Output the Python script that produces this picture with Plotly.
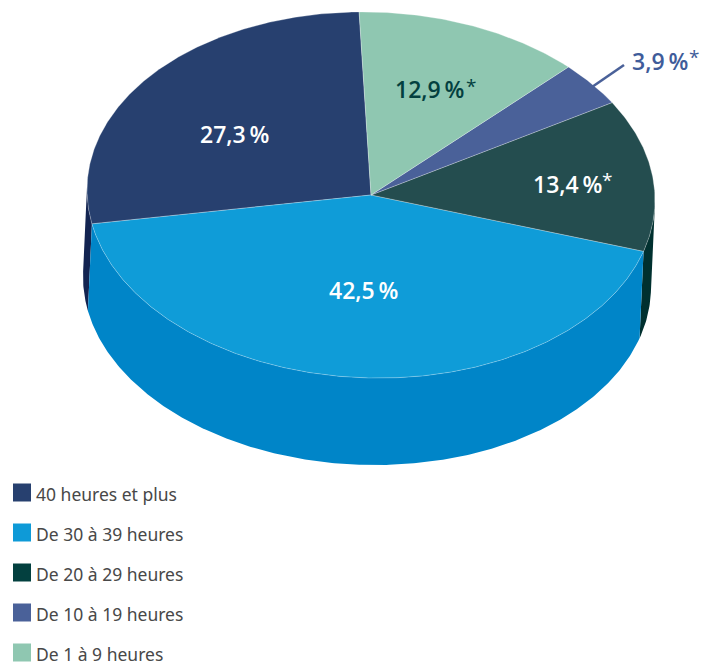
import numpy as np
import plotly.graph_objects as go

categories = ["40 heures et plus", "De 30 à 39 heures", "De 20 à 29 heures", "De 10 à 19 heures", "De 1 à 9 heures"]
values = [27.3, 42.5, 13.4, 3.9, 12.9]
value_text = ["27,3", "42,5", "13,4", "3,9", "12,9"]
top_colors = ["#27406F", "#0F9CD8", "#244D4F", "#4A6199", "#8FC7B1"]
side_colors = ["#132451", "#0085C8", "#00302F", "#4A6199", "#8FC7B1"]
swatch_colors = ["#27406F", "#0E9AD7", "#03403F", "#4A6199", "#8FC7B1"]
label_colors = ["#FFFFFF", "#FFFFFF", "#FFFFFF", "#3F5C9A", "#03403F"]
label_x = [234, 363, 567, 660, 429]
label_y = [134, 290, 184, 61, 89]
star_x = [None, None, 607, 694, 471]
star_y = [None, None, 180, 57, 86]

CX, CY, RX, RY = 371, 195, 284, 183
DX, DY = -4, 87
TILT = 0.018
START_DEG = 357.6 - 360  # 12.9 % slice starts here, clockwise order below
order = [4, 3, 2, 1, 0]  # clockwise from the top
TANGENT_RIGHT, TANGENT_LEFT = 91.7, 271.7  # where the wall's outline leaves the top ellipse


def arc(a0, a1, dx=0, dy=0):
    t = np.radians(np.linspace(a0, a1, max(int(abs(a1 - a0)) * 2, 4)))
    ex = RX * np.sin(t)
    return CX + dx + ex, CY + dy - RY * np.cos(t) + TILT * ex


spans = {}
a = START_DEG
total = sum(values)
for i in order:
    b = a + values[i] / total * 360
    spans[i] = (a, b)
    a = b

fig = go.Figure()

# Side walls: only the visible part of each arc
walls = {0: (spans[0][0], TANGENT_LEFT), 2: (TANGENT_RIGHT, spans[2][1]), 1: spans[1]}
for i, (a0, b0) in walls.items():
    x0, y0 = arc(a0, b0)
    x1, y1 = arc(a0, b0, DX, DY)
    fig.add_trace(go.Scatter(
        x=np.r_[x0, x1[::-1]], y=np.r_[y0, y1[::-1]],
        mode="lines", fill="toself", fillcolor=side_colors[i],
        line=dict(width=0), hoverinfo="skip", showlegend=False))

# Top faces
for i in [0, 1, 2, 3, 4]:
    x0, y0 = arc(*spans[i])
    fig.add_trace(go.Scatter(
        x=np.r_[CX, x0, CX], y=np.r_[CY, y0, CY],
        mode="lines", fill="toself", fillcolor=top_colors[i],
        line=dict(width=0.6, color="rgba(255,255,255,0.45)"),
        name=categories[i], text=f"{categories[i]}: {value_text[i]} %",
        hoverinfo="text", showlegend=False))

# Manual legend
legend_y = [492.5, 532.5, 572.5, 612.5, 652.5]
fig.add_trace(go.Scatter(
    x=[22] * 5, y=legend_y, mode="markers",
    marker=dict(symbol="square", size=18, color=swatch_colors, line=dict(width=0)),
    text=categories, hoverinfo="text", showlegend=False))

annotations = []
for i in range(5):
    annotations.append(dict(
        x=label_x[i], y=label_y[i],
        text=f"{value_text[i]}\u2009%", showarrow=False,
        xanchor="center", yanchor="middle",
        font=dict(family="Open Sans", size=23, weight=600, color=label_colors[i])))
    if star_x[i] is not None:
        annotations.append(dict(
            x=star_x[i], y=star_y[i], text="*", showarrow=False,
            xanchor="center", yanchor="middle",
            font=dict(family="Open Sans", size=19, color=label_colors[i])))
    annotations.append(dict(
        x=36, y=legend_y[i] + 1, text=categories[i], showarrow=False,
        xanchor="left", yanchor="middle", xshift=-2,
        font=dict(family="Noto Sans", size=17.5, color="#484848")))

fig.update_layout(
    width=713, height=665, margin=dict(l=0, r=0, t=0, b=0),
    paper_bgcolor="white", plot_bgcolor="white",
    xaxis=dict(range=[0, 713], visible=False, fixedrange=True),
    yaxis=dict(range=[665, 0], visible=False, fixedrange=True),
    shapes=[dict(type="line", x0=592, y0=87, x1=624, y1=65,
                 line=dict(color="#4A6199", width=2.6))],
    annotations=annotations,
)
fig.write_html("out.html", config={"displayModeBar": False},
               post_script="document.body.style.margin='0';document.body.style.overflow='hidden';")
